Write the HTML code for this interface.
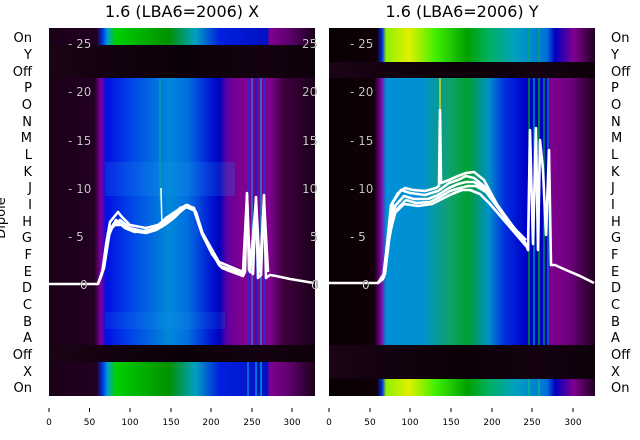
<!DOCTYPE html>
<html><head><meta charset="utf-8"><style>
body{margin:0;background:#fff;}
svg{display:block;font-family:"DejaVu Sans","Liberation Sans",sans-serif;}
</style></head><body>
<svg width="640" height="440" viewBox="0 0 640 440" xmlns="http://www.w3.org/2000/svg">
<defs>
<linearGradient id="dk" x1="0" x2="1"><stop offset="0" stop-color="#1a0416"/><stop offset="0.2" stop-color="#140210"/><stop offset="0.5" stop-color="#0c0008"/><stop offset="0.8" stop-color="#140210"/><stop offset="1" stop-color="#0e000a"/></linearGradient>
<linearGradient id="lb" x1="0" x2="1">
<stop offset="0" stop-color="#1a0018"/><stop offset="0.17" stop-color="#220022"/><stop offset="0.195" stop-color="#8000a0"/><stop offset="0.215" stop-color="#0010e0"/><stop offset="0.3" stop-color="#0040e8"/><stop offset="0.45" stop-color="#0088d8"/><stop offset="0.52" stop-color="#0070e0"/><stop offset="0.6" stop-color="#0020d8"/><stop offset="0.64" stop-color="#0000c0"/><stop offset="0.67" stop-color="#6000a0"/><stop offset="0.72" stop-color="#800090"/><stop offset="0.83" stop-color="#800090"/><stop offset="0.88" stop-color="#400040"/><stop offset="1" stop-color="#1a0018"/></linearGradient>
<linearGradient id="lg" x1="0" x2="1">
<stop offset="0" stop-color="#1a0018"/><stop offset="0.18" stop-color="#220022"/><stop offset="0.2" stop-color="#0030e0"/><stop offset="0.22" stop-color="#00a0d0"/><stop offset="0.25" stop-color="#00d000"/><stop offset="0.45" stop-color="#009000"/><stop offset="0.55" stop-color="#00a0c0"/><stop offset="0.64" stop-color="#0020e0"/><stop offset="0.82" stop-color="#0010c0"/><stop offset="0.83" stop-color="#800090"/><stop offset="0.9" stop-color="#600070"/><stop offset="1" stop-color="#1a0018"/></linearGradient>
<linearGradient id="rb" x1="0" x2="1">
<stop offset="0" stop-color="#080004"/><stop offset="0.17" stop-color="#100008"/><stop offset="0.195" stop-color="#8000a0"/><stop offset="0.215" stop-color="#0090d8"/><stop offset="0.35" stop-color="#0090d0"/><stop offset="0.45" stop-color="#10a070"/><stop offset="0.52" stop-color="#00a030"/><stop offset="0.6" stop-color="#0090c8"/><stop offset="0.66" stop-color="#0030e0"/><stop offset="0.74" stop-color="#0000c8"/><stop offset="0.82" stop-color="#0000c0"/><stop offset="0.83" stop-color="#800090"/><stop offset="0.9" stop-color="#700080"/><stop offset="1" stop-color="#200020"/></linearGradient>
<linearGradient id="ry" x1="0" x2="1">
<stop offset="0" stop-color="#080004"/><stop offset="0.18" stop-color="#100008"/><stop offset="0.2" stop-color="#0030e0"/><stop offset="0.215" stop-color="#90f000"/><stop offset="0.3" stop-color="#e0f000"/><stop offset="0.4" stop-color="#40f000"/><stop offset="0.52" stop-color="#00a000"/><stop offset="0.6" stop-color="#00b060"/><stop offset="0.7" stop-color="#00a0c0"/><stop offset="0.82" stop-color="#0070d8"/><stop offset="0.85" stop-color="#0000c0"/><stop offset="0.92" stop-color="#800090"/><stop offset="1" stop-color="#200020"/></linearGradient>
</defs>
<text x="182" y="17" font-size="16" text-anchor="middle">1.6 (LBA6=2006) X</text>
<text x="462" y="17" font-size="16" text-anchor="middle">1.6 (LBA6=2006) Y</text>

<!-- left panel -->
<g>
<rect x="49" y="28" width="266" height="17" fill="url(#lg)"/>
<rect x="49" y="45" width="266" height="33" fill="url(#dk)"/>
<rect x="49" y="78" width="266" height="267" fill="url(#lb)"/>
<rect x="105" y="162" width="130" height="34" fill="#20a0f0" opacity="0.18"/>
<rect x="105" y="312" width="120" height="17" fill="#20a0f0" opacity="0.15"/>
<rect x="49" y="345" width="266" height="17" fill="url(#dk)"/>
<rect x="49" y="362" width="266" height="34" fill="url(#lg)"/>
<g stroke-width="1.2">
<line x1="248" y1="78" x2="248" y2="345" stroke="#0040ff"/><line x1="252" y1="78" x2="252" y2="345" stroke="#00a0e0"/><line x1="256" y1="78" x2="256" y2="345" stroke="#0020e0"/><line x1="261" y1="78" x2="261" y2="345" stroke="#00b0e0"/><line x1="265" y1="78" x2="265" y2="345" stroke="#0040ff"/>
<line x1="248" y1="362" x2="248" y2="396" stroke="#00a0e0"/><line x1="256" y1="362" x2="256" y2="396" stroke="#00b0e0"/><line x1="261" y1="362" x2="261" y2="396" stroke="#00c0e0"/>
<line x1="160" y1="78" x2="160" y2="200" stroke="#00b090" stroke-width="1"/>
</g>
<g fill="none" stroke="#fff" stroke-width="2.6" stroke-linejoin="round">
<polyline points="49,284 98,284 102,274 106,245 110,222 118,212 122,217 130,225 146,228 158,225 162,222 166,218 172,214 178,210 187,207 195,211 203,236 211,250 219,265 227,270 243,276 245,272 247,193 249,270 253,274 256,197 258,278 261,275 264,195 266,278 270,275 276,276 290,279 314,283"/>
<polyline points="98,284 103,270 107,240 112,228 120,220 130,228 146,232 158,228 166,222 172,218 178,212 186,205 194,208 202,232 211,248 219,262 243,272 247,195 250,272 256,200 260,272 264,200 268,272"/>
<polyline points="98,284 104,266 108,233 113,225 122,225 132,231 146,233 156,230 166,224 174,218 180,212 186,207 194,210 202,234 212,252 220,266 243,274"/>
<polyline points="98,284 104,268 110,230 116,220 125,228 135,232 150,230 162,224 172,216 180,208 188,205 196,212 204,238 212,254 222,268 243,275"/>
<line x1="162" y1="228" x2="161" y2="188" stroke-width="1.5"/>
</g>
<g fill="#fff" font-size="12" stroke="#000" stroke-width="0.3">
<text x="68" y="48">- 25</text><text x="68" y="96">- 20</text><text x="68" y="145">- 15</text><text x="68" y="193">- 10</text><text x="68" y="241">- 5</text><text x="80" y="289">0</text>
<text x="302" y="48">25</text><text x="302" y="96">20</text><text x="302" y="145">15</text><text x="302" y="193">10</text><text x="310" y="241">5</text><text x="311" y="289">0</text>
</g>
</g>

<!-- right panel -->
<g>
<rect x="329" y="28" width="266" height="34" fill="url(#ry)"/>
<rect x="329" y="62" width="266" height="16" fill="url(#dk)"/>
<rect x="329" y="78" width="266" height="267" fill="url(#rb)"/>
<rect x="329" y="345" width="266" height="34" fill="url(#dk)"/>
<rect x="329" y="379" width="266" height="17" fill="url(#ry)"/>
<g stroke-width="1.3">
<line x1="529" y1="78" x2="529" y2="345" stroke="#00b000"/><line x1="534" y1="78" x2="534" y2="345" stroke="#00a0c0"/><line x1="539" y1="78" x2="539" y2="345" stroke="#00c000"/><line x1="544" y1="78" x2="544" y2="345" stroke="#00a040"/><line x1="548" y1="78" x2="548" y2="345" stroke="#0080d0"/>
<line x1="529" y1="28" x2="529" y2="62" stroke="#00b060"/><line x1="539" y1="28" x2="539" y2="62" stroke="#00b060"/>
<line x1="529" y1="379" x2="529" y2="396" stroke="#00c080"/><line x1="539" y1="379" x2="539" y2="396" stroke="#00c080"/>
<line x1="440" y1="78" x2="440" y2="110" stroke="#e0f000"/>
</g>
<g fill="none" stroke="#fff" stroke-width="2.6" stroke-linejoin="round">
<polyline points="329,283 378,283 383,279 387,245 391,205 398,193 405,188 413,190 425,191 436,188 439,186 440,110 441,183 449,180 458,176 466,173 474,172 484,180 492,195 500,210 512,225 524,240 528,250 530,130 533,244 536,128 538,250 540,140 543,170 546,235 549,150 551,265 555,265 566,270 580,276 594,283"/>
<polyline points="378,283 384,276 388,240 393,202 401,190 410,193 425,195 438,191 449,183 458,180 466,176 474,178 484,186 494,200 504,214 514,228 526,240"/>
<polyline points="378,283 384,277 389,236 395,206 404,196 414,199 428,199 438,195 449,188 458,184 466,182 474,182 484,188 496,204 506,218 516,232 526,244"/>
<polyline points="378,283 385,272 390,232 396,210 406,200 416,203 430,202 440,197 450,191 460,188 468,186 476,186 486,192 498,208 508,222 518,236 528,248"/>
<polyline points="378,283 385,274 389,240 394,214 404,204 418,206 432,204 444,198 452,194 462,190 470,190 480,194 490,204 502,218 514,232 526,246"/>
</g>
<g fill="#fff" font-size="12" stroke="#000" stroke-width="0.3">
<text x="350" y="48">- 25</text><text x="350" y="96">- 20</text><text x="350" y="145">- 15</text><text x="350" y="193">- 10</text><text x="350" y="241">- 5</text><text x="362" y="289">0</text>
</g>
</g>

<!-- y labels -->
<g font-size="13" fill="#000">
<g text-anchor="end">
<text x="32" y="42">On</text><text x="32" y="59">Y</text><text x="32" y="76">Off</text><text x="32" y="92">P</text><text x="32" y="109">O</text><text x="32" y="126">N</text><text x="32" y="142">M</text><text x="32" y="159">L</text><text x="32" y="176">K</text><text x="32" y="192">J</text><text x="32" y="209">I</text><text x="32" y="226">H</text><text x="32" y="242">G</text><text x="32" y="259">F</text><text x="32" y="276">E</text><text x="32" y="292">D</text><text x="32" y="309">C</text><text x="32" y="326">B</text><text x="32" y="342">A</text><text x="32" y="359">Off</text><text x="32" y="376">X</text><text x="32" y="392">On</text>
</g>
<g>
<text x="611" y="42">On</text><text x="611" y="59">Y</text><text x="611" y="76">Off</text><text x="611" y="92">P</text><text x="611" y="109">O</text><text x="611" y="126">N</text><text x="611" y="142">M</text><text x="611" y="159">L</text><text x="611" y="176">K</text><text x="611" y="192">J</text><text x="611" y="209">I</text><text x="611" y="226">H</text><text x="611" y="242">G</text><text x="611" y="259">F</text><text x="611" y="276">E</text><text x="611" y="292">D</text><text x="611" y="309">C</text><text x="611" y="326">B</text><text x="611" y="342">A</text><text x="611" y="359">Off</text><text x="611" y="376">X</text><text x="611" y="392">On</text>
</g>
<text transform="translate(5,218) rotate(-90)" text-anchor="middle" font-size="13">Dipole</text>
</g>

<!-- x ticks -->
<g stroke="#000" stroke-width="1">
<line x1="49" y1="408" x2="49" y2="412"/><line x1="89.5" y1="408" x2="89.5" y2="412"/><line x1="130" y1="408" x2="130" y2="412"/><line x1="171" y1="408" x2="171" y2="412"/><line x1="211" y1="408" x2="211" y2="412"/><line x1="252" y1="408" x2="252" y2="412"/><line x1="292" y1="408" x2="292" y2="412"/>
<line x1="329" y1="408" x2="329" y2="412"/><line x1="370" y1="408" x2="370" y2="412"/><line x1="410" y1="408" x2="410" y2="412"/><line x1="451" y1="408" x2="451" y2="412"/><line x1="492" y1="408" x2="492" y2="412"/><line x1="532" y1="408" x2="532" y2="412"/><line x1="573" y1="408" x2="573" y2="412"/>
</g>
<g font-size="9" text-anchor="middle" fill="#000">
<text x="49" y="425">0</text><text x="89.5" y="425">50</text><text x="130" y="425">100</text><text x="171" y="425">150</text><text x="211" y="425">200</text><text x="252" y="425">250</text><text x="292" y="425">300</text>
<text x="329" y="425">0</text><text x="370" y="425">50</text><text x="410" y="425">100</text><text x="451" y="425">150</text><text x="492" y="425">200</text><text x="532" y="425">250</text><text x="573" y="425">300</text>
</g>
</svg>
</body></html>
